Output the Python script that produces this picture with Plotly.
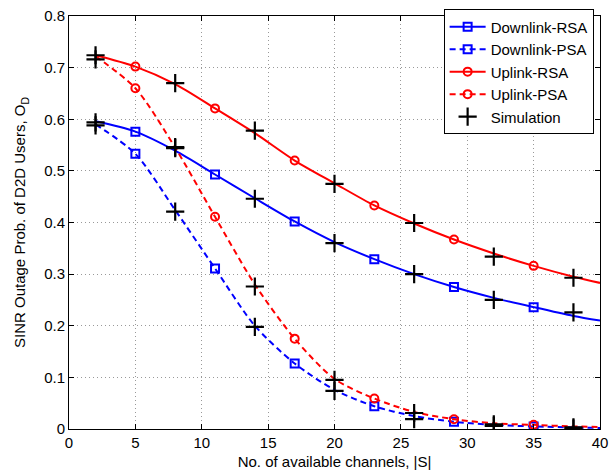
import plotly.graph_objects as go

# ---------------- data ----------------
x_ana = [2, 5, 8, 11, 14, 17, 20, 23, 26, 29, 32, 35, 38, 40]
dl_rsa = [0.596, 0.576, 0.539, 0.493, 0.447, 0.402, 0.362, 0.329, 0.300, 0.275, 0.254, 0.236, 0.219, 0.210]
dl_psa = [0.590, 0.533, 0.424, 0.311, 0.200, 0.127, 0.076, 0.044, 0.025, 0.014, 0.008, 0.005, 0.003, 0.002]
ul_rsa = [0.724, 0.702, 0.668, 0.621, 0.573, 0.520, 0.476, 0.433, 0.398, 0.367, 0.340, 0.316, 0.295, 0.283]
ul_psa = [0.722, 0.660, 0.545, 0.411, 0.280, 0.175, 0.097, 0.059, 0.033, 0.019, 0.011, 0.008, 0.005, 0.004]

x_mark = [5, 11, 17, 23, 29, 35]

x_sim = [2, 8, 14, 20, 26, 32, 38]
sim_dl_rsa = [0.594, 0.544, 0.446, 0.360, 0.300, 0.250, 0.226]
sim_dl_psa = [0.588, 0.421, 0.198, 0.074, 0.019, 0.006, 0.001]
sim_ul_rsa = [0.724, 0.670, 0.578, 0.475, 0.399, 0.334, 0.293]
sim_ul_psa = [0.716, 0.546, 0.276, 0.095, 0.031, 0.009, 0.003]

x_ticks = [0, 5, 10, 15, 20, 25, 30, 35, 40]
y_ticks = [0, 0.1, 0.2, 0.3, 0.4, 0.5, 0.6, 0.7, 0.8]
y_tick_text = ["0", "0.1", "0.2", "0.3", "0.4", "0.5", "0.6", "0.7", "0.8"]

series = [
    ("Downlink-RSA", dl_rsa, "blue", "solid", "square-open"),
    ("Downlink-PSA", dl_psa, "blue", "6px,4px", "square-open"),
    ("Uplink-RSA", ul_rsa, "red", "solid", "circle-open"),
    ("Uplink-PSA", ul_psa, "red", "6px,4px", "circle-open"),
]

FONT = "Liberation Sans, Arial, Helvetica, sans-serif"
FS = 15
fig = go.Figure()

# legend entries (dummy traces)
for name, ys, col, dash, sym in series:
    fig.add_trace(go.Scatter(
        x=[None], y=[None], mode="lines+markers", name=name,
        line=dict(color=col, width=2, dash=dash),
        marker=dict(symbol=sym, size=8, color=col, line=dict(width=2, color=col)),
    ))
fig.add_trace(go.Scatter(
    x=[None], y=[None], mode="markers", name="Simulation",
    marker=dict(symbol="cross-thin", size=13, color="black", line=dict(width=2.2, color="black")),
))

# analytical curves and markers
for name, ys, col, dash, sym in series:
    fig.add_trace(go.Scatter(
        x=x_ana, y=ys, mode="lines", showlegend=False,
        line=dict(color=col, width=2, dash=dash, shape="spline", smoothing=0.8),
        hoverinfo="skip",
    ))
    ym = [ys[x_ana.index(v)] for v in x_mark]
    fig.add_trace(go.Scatter(
        x=x_mark, y=ym, mode="markers", showlegend=False,
        marker=dict(symbol=sym, size=8, color=col, line=dict(width=2, color=col)),
    ))

# simulation points
for sims in [sim_dl_rsa, sim_dl_psa, sim_ul_rsa, sim_ul_psa]:
    fig.add_trace(go.Scatter(
        x=x_sim, y=sims, mode="markers", showlegend=False,
        marker=dict(symbol="cross-thin", size=13, color="black", line=dict(width=2.2, color="black")),
    ))

axis_common = dict(
    showline=True, linecolor="black", linewidth=1, mirror="ticks",
    ticks="inside", ticklen=5, tickwidth=1, tickcolor="black",
    showgrid=True, gridcolor="#999999", griddash="1px,3px", gridwidth=1,
    zeroline=False, ticklabeloverflow="allow",
    tickfont=dict(family=FONT, size=FS, color="black"),
)

fig.update_layout(
    width=615, height=476,
    margin=dict(l=69, r=11, t=7, b=47),
    paper_bgcolor="white", plot_bgcolor="white",
    font=dict(family=FONT, size=FS, color="black"),
    xaxis=dict(
        range=[0, 40], tickvals=x_ticks, **axis_common,
        title=dict(text="No. of available channels, |S|", font=dict(family=FONT, size=FS), standoff=6),
    ),
    yaxis=dict(
        range=[0, 0.8], tickvals=y_ticks, ticktext=y_tick_text, **axis_common,
        title=dict(text="SINR Outage Prob. of D2D Users, O<sub>D</sub>", font=dict(family=FONT, size=FS), standoff=14),
    ),
    legend=dict(
        x=0.988, y=1.016, xanchor="right", yanchor="top",
        bgcolor="white", bordercolor="black", borderwidth=1,
        font=dict(family=FONT, size=FS, color="black"),
        itemwidth=36,
    ),
    showlegend=True,
)

fig.write_html("out.html")
